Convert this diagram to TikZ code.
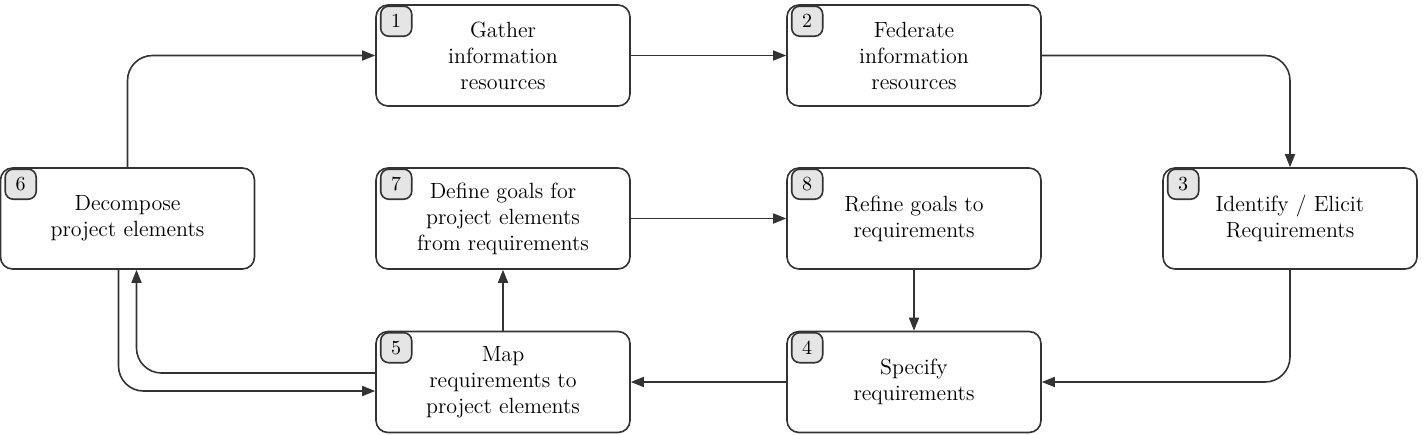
\documentclass[tikz,border=0pt]{standalone}
\usetikzlibrary{arrows.meta}

\begin{document}
\begin{tikzpicture}[x=0.5pt,y=-0.5pt,
        box/.style={draw=black!80,line width=0.8pt,rounded corners=6pt,minimum width=127pt,minimum height=50.5pt,inner sep=2pt,align=center,font=\fontsize{11}{13}\selectfont},
        badge/.style={draw=black!80,line width=0.8pt,rounded corners=4pt,fill=black!10,minimum width=15.5pt,minimum height=15pt,inner sep=0pt,font=\normalsize},
        arr/.style={draw=black!80,line width=0.8pt,-{Triangle[length=6.5pt,width=5pt]},rounded corners=12.5pt}]
        \useasboundingbox (0,0) rectangle (1423,434);
        \node [box] (gather) at (503,55.5) {Gather\\information\\resources};
        \node [box] (federate) at (914,55.5) {Federate\\information\\resources};
        \node [box] (decompose) at (127.5,218.5) {Decompose\\project elements};
        \node [box] (definegoals) at (503,218.5) {Define goals for\\project elements\\from requirements};
        \node [box] (refine) at (914,218.5) {Refine goals to\\requirements};
        \node [box] (identify) at (1290,218.5) {Identify / Elicit\\Requirements};
        \node [box] (map) at (503,382) {Map\\requirements to\\project elements};
        \node [box] (specify) at (914,382) {Specify\\requirements};
        \node [badge] (n1) at ([xshift=10.5pt,yshift=-8.5pt]gather.north west) {1};
        \node [badge] (n2) at ([xshift=10.5pt,yshift=-8.5pt]federate.north west) {2};
        \node [badge] (n3) at ([xshift=10.5pt,yshift=-8.5pt]identify.north west) {3};
        \node [badge] (n4) at ([xshift=10.5pt,yshift=-8.5pt]specify.north west) {4};
        \node [badge] (n5) at ([xshift=10.5pt,yshift=-8.5pt]map.north west) {5};
        \node [badge] (n6) at ([xshift=10.5pt,yshift=-8.5pt]decompose.north west) {6};
        \node [badge] (n7) at ([xshift=10.5pt,yshift=-8.5pt]definegoals.north west) {7};
        \node [badge] (n8) at ([xshift=10.5pt,yshift=-8.5pt]refine.north west) {8};
        \draw [arr] (decompose.north) |- (gather.west);
        \draw [arr] (gather.east) -- (federate.west);
        \draw [arr] (federate.east) -| (identify.north);
        \draw [arr] (identify.south) |- (specify.east);
        \draw [arr] (refine.south) -- (specify.north);
        \draw [arr] (specify.west) -- (map.east);
        \draw [arr] (map.north) -- (definegoals.south);
        \draw [arr] (definegoals.east) -- (refine.west);
        \draw [arr] ([yshift=4.5pt]map.west) -| ([xshift=4.5pt]decompose.south);
        \draw [arr] ([xshift=-4.5pt]decompose.south) |- ([yshift=-4.5pt]map.west);
\end{tikzpicture}
\end{document}
